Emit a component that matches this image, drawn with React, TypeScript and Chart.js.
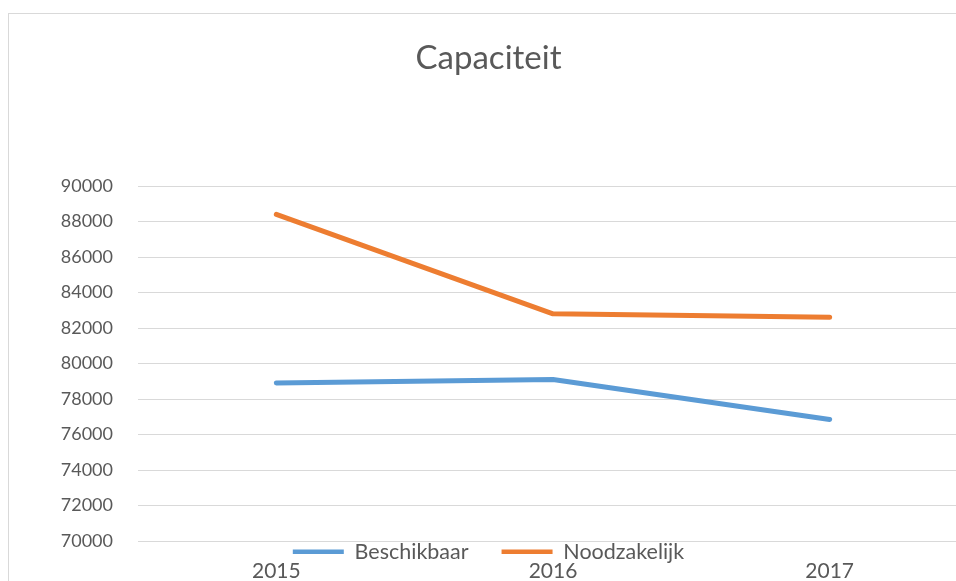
import React, { useEffect, useRef } from "react";
import { Chart, registerables } from "chart.js";

Chart.register(...registerables);

const chartTitle = "Capaciteit";
const years = ["2015", "2016", "2017"];
const seriesNames = ["Beschikbaar", "Noodzakelijk"];
const beschikbaar = [78900, 79100, 76850];
const noodzakelijk = [88400, 82800, 82600];
const yMin = 70000;
const yMax = 90000;
const yStep = 2000;

const TEXT = "#595959";
const GRID = "#d9d9d9";
const FONT = "Lato, 'Open Sans', sans-serif";
const LEGEND_GAP = "      ";

// lets the legend's descenders (the "j") show below its tight layout box
const legendNoClip = {
  id: "legendNoClip",
  afterLayout(chart: any) {
    if (chart.legend) chart.legend.bottom = chart.legend.top + 32;
  },
};

export default function App() {
  const ref = useRef<HTMLCanvasElement | null>(null);

  useEffect(() => {
    if (!ref.current) return;
    const chart = new Chart(ref.current, {
      type: "line",
      data: {
        labels: years,
        datasets: [
          {
            label: seriesNames[0],
            data: beschikbaar,
            borderColor: "#5B9BD5",
            backgroundColor: "#5B9BD5",
            borderWidth: 5,
            borderCapStyle: "round",
            borderJoinStyle: "round",
            pointRadius: 0,
            tension: 0,
          },
          {
            label: seriesNames[1],
            data: noodzakelijk,
            borderColor: "#ED7D31",
            backgroundColor: "#ED7D31",
            borderWidth: 5,
            borderCapStyle: "round",
            borderJoinStyle: "round",
            pointRadius: 0,
            tension: 0,
          },
        ],
      },
      plugins: [legendNoClip],
      options: {
        responsive: false,
        animation: false,
        layout: { padding: { left: 0, right: 6, top: 0, bottom: 20.4 } },
        plugins: {
          title: {
            display: true,
            text: chartTitle,
            color: TEXT,
            font: { family: FONT, size: 33, weight: "normal" },
            padding: { top: 25, bottom: 107.4 },
          },
          legend: {
            position: "bottom",
            maxHeight: 17.4,
            labels: {
              color: TEXT,
              font: { family: FONT, size: 21.5 },
              usePointStyle: true,
              pointStyle: "line",
              pointStyleWidth: 51,
              padding: 0,
              generateLabels: (c: any) => {
                const items = Chart.defaults.plugins.legend.labels.generateLabels(c);
                return items.map((it: any, i: number) => ({
                  ...it,
                  lineWidth: 4.5,
                  text: i < items.length - 1 ? it.text + LEGEND_GAP : it.text,
                }));
              },
            },
          },
          tooltip: { enabled: false },
        },
        scales: {
          x: {
            type: "category",
            offset: true,
            weight: 2000,
            grid: { display: false, drawTicks: false },
            border: { display: false },
            ticks: {
              color: TEXT,
              font: { family: FONT, size: 21 },
              padding: 0,
            },
          },
          y: {
            min: yMin,
            max: yMax,
            grid: { color: GRID, lineWidth: 1, drawTicks: false },
            border: { display: false },
            ticks: {
              stepSize: yStep,
              color: TEXT,
              font: { family: FONT, size: 18 },
              padding: 25,
              callback: (v: any) => String(v),
            },
            afterFit: (s: any) => {
              s.width = 129;
            },
          },
        },
      },
    });
    return () => chart.destroy();
  }, []);

  return (
    <div
      style={{
        position: "fixed",
        left: 0,
        top: 0,
        width: 956,
        height: 581,
        overflow: "hidden",
        background: "#fff",
      }}
    >
      <div
        style={{
          position: "absolute",
          left: 8,
          top: 13,
          width: 1100,
          height: 700,
          borderLeft: `1px solid ${GRID}`,
          borderTop: `1px solid ${GRID}`,
        }}
      >
        <canvas ref={ref} width={965} height={590} style={{ display: "block" }} />
      </div>
    </div>
  );
}
